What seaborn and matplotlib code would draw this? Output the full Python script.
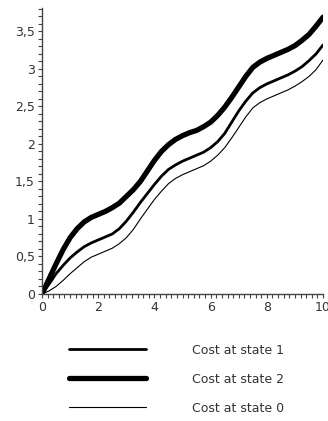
import matplotlib
matplotlib.use("Agg")
import matplotlib.pyplot as plt
import seaborn as sns
import pandas as pd
from matplotlib.ticker import MultipleLocator, FixedLocator, FixedFormatter

# valores (x de 0.25 em 0.25)
x_vals = [0, 0.25, 0.5, 0.75, 1, 1.25, 1.5, 1.75, 2, 2.25, 2.5, 2.75, 3, 3.25,
          3.5, 3.75, 4, 4.25, 4.5, 4.75, 5, 5.25, 5.5, 5.75, 6, 6.25, 6.5, 6.75,
          7, 7.25, 7.5, 7.75, 8, 8.25, 8.5, 8.75, 9, 9.25, 9.5, 9.75, 10]
cost_state1 = [0, 0.13, 0.27, 0.38, 0.48, 0.56, 0.63, 0.68, 0.72, 0.76, 0.80,
               0.87, 0.97, 1.09, 1.22, 1.34, 1.46, 1.57, 1.66, 1.72, 1.77,
               1.81, 1.85, 1.89, 1.95, 2.03, 2.14, 2.29, 2.44, 2.57, 2.68,
               2.75, 2.80, 2.84, 2.88, 2.92, 2.97, 3.03, 3.11, 3.20, 3.32]
cost_state2 = [0, 0.20, 0.40, 0.59, 0.75, 0.87, 0.96, 1.02, 1.06, 1.10, 1.15,
               1.21, 1.30, 1.39, 1.50, 1.64, 1.78, 1.90, 1.99, 2.06, 2.11,
               2.15, 2.18, 2.23, 2.29, 2.38, 2.49, 2.62, 2.76, 2.90, 3.02,
               3.09, 3.14, 3.18, 3.22, 3.26, 3.31, 3.38, 3.46, 3.57, 3.69]
cost_state0 = [0, 0.04, 0.10, 0.18, 0.27, 0.35, 0.43, 0.49, 0.53, 0.57, 0.61,
               0.67, 0.75, 0.86, 1.00, 1.13, 1.26, 1.37, 1.47, 1.54, 1.59,
               1.63, 1.67, 1.71, 1.77, 1.85, 1.95, 2.08, 2.22, 2.36, 2.48,
               2.55, 2.60, 2.64, 2.68, 2.72, 2.77, 2.83, 2.90, 2.99, 3.12]
labels = ["Cost at state 1", "Cost at state 2", "Cost at state 0"]

x_ticks = [0, 2, 4, 6, 8, 10]
y_ticks = [0, 0.5, 1, 1.5, 2, 2.5, 3, 3.5]
y_tick_labels = ["0", "0,5", "1", "1,5", "2", "2,5", "3", "3,5"]

sns.set_theme(style="white")
plt.rcParams["font.family"] = ["DejaVu Sans"]

fig = plt.figure(figsize=(3.28, 4.21), dpi=100)
ax = fig.add_axes([0.128, 0.3017, 0.857, 0.679])

series = [cost_state1, cost_state2, cost_state0]
widths = [2.0, 3.8, 0.8]
handles = []
for vals, lw, lab in zip(series, widths, labels):
    df = pd.DataFrame({"x": x_vals, "y": vals})
    sns.lineplot(data=df, x="x", y="y", ax=ax, color="black", linewidth=lw,
                 label=lab, legend=False, solid_joinstyle="round",
                 solid_capstyle="round")
    handles.append(ax.lines[-1])

ax.set_xlim(0, 10)
ax.set_ylim(0, 3.81)
ax.set_xlabel("")
ax.set_ylabel("")

for s in ["top", "right"]:
    ax.spines[s].set_visible(False)
for s in ["left", "bottom"]:
    ax.spines[s].set_color("#444444")
    ax.spines[s].set_linewidth(1.0)

ax.xaxis.set_major_locator(FixedLocator(x_ticks))
ax.xaxis.set_minor_locator(MultipleLocator(0.2))
ax.yaxis.set_major_locator(FixedLocator(y_ticks))
ax.yaxis.set_major_formatter(FixedFormatter(y_tick_labels))
ax.yaxis.set_minor_locator(MultipleLocator(0.1))
ax.tick_params(which="both", direction="out", length=3, width=0.8, color="#444444",
               bottom=True, left=True, labelsize=9, labelcolor="#333333", pad=2)

fig.legend(handles=handles, labels=labels, loc="upper left",
           bbox_to_anchor=(0.175, 0.21), frameon=False, fontsize=9,
           handlelength=6.2, handletextpad=3.7, labelspacing=1.28,
           labelcolor="#333333")

fig.savefig("out.png", dpi=100, facecolor="white")
